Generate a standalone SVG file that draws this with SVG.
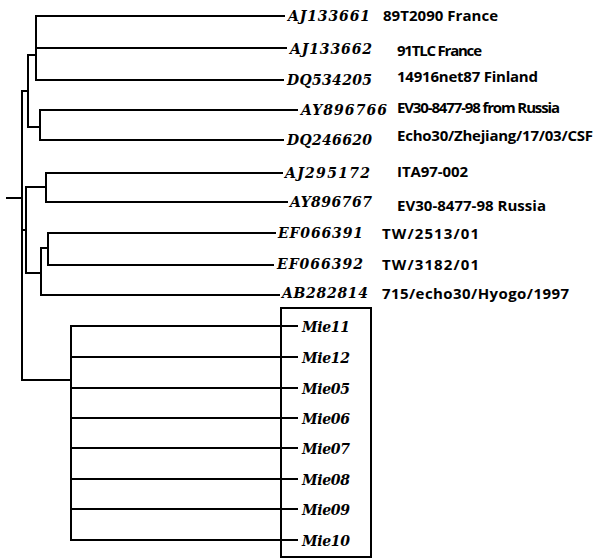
<svg xmlns="http://www.w3.org/2000/svg" width="598" height="560" viewBox="0 0 598 560">
<style>
.br{fill:none;stroke:#000;stroke-width:2;stroke-linecap:square}
.lf{fill:none;stroke:#000;stroke-width:1.8}
.acc{font-family:"DejaVu Serif","Liberation Serif",serif;font-style:italic;font-weight:700;font-size:14px;fill:#000}
.mie{font-family:"DejaVu Serif","Liberation Serif",serif;font-style:italic;font-weight:700;font-size:14px;fill:#000}
.str{font-family:"Open Sans","Liberation Sans",sans-serif;font-weight:700;font-size:15px;fill:#000}
.box{fill:none;stroke:#000;stroke-width:2}
</style>
<rect width="598" height="560" fill="#fff"/>
<g id="connectors">
<path class="br" d="M7,198 H22 M22,91 V380"/>
<path class="br" d="M28,55 V127 M28,91 H22"/>
<path class="br" d="M36,55 H28 M36,16 V80"/>
<path class="lf" d="M36,16 H285 M36,48 H287 M36,80 H284"/>
<path class="br" d="M40,127 H28 M40,110 V140"/>
<path class="lf" d="M40,110 H298 M40,140 H284"/>
<path class="br" d="M26,187 V273 M26,230 H22"/>
<path class="br" d="M46,187 H26 M46,173 V202"/>
<path class="lf" d="M46,173 H283 M46,202 H288"/>
<path class="br" d="M41,273 H26 M41,248 V295 M48,248 H41 M48,233 V265"/>
<path class="lf" d="M48,233 H276 M48,265 H274 M41,295 H280"/>
<path class="br" d="M71,380 H22 M71,326 V540"/>
<path class="lf" d="M71,326 H298 M71,357 H298 M71,388 H298 M71,418 H298 M71,448 H298 M71,479 H298 M71,509 H298 M71,540 H298"/>
</g>
<g id="n-AJ133661"><text class="acc" x="288" y="20.5" textLength="82" lengthAdjust="spacing">AJ133661</text><text class="str" x="383" y="20.5" textLength="115" lengthAdjust="spacing">89T2090 France</text></g>
<g id="n-AJ133662"><text class="acc" x="290" y="53.5" textLength="82" lengthAdjust="spacing">AJ133662</text><text class="str" x="397" y="55.5" textLength="85" lengthAdjust="spacing">91TLC France</text></g>
<g id="n-DQ534205"><text class="acc" x="287" y="84.5" textLength="85" lengthAdjust="spacing">DQ534205</text><text class="str" x="397" y="82" textLength="141" lengthAdjust="spacing">14916net87 Finland</text></g>
<g id="n-AY896766"><text class="acc" x="301" y="114.5" textLength="86" lengthAdjust="spacing">AY896766</text><text class="str" x="397" y="113" textLength="163" lengthAdjust="spacing">EV30-8477-98 from Russia</text></g>
<g id="n-DQ246620"><text class="acc" x="287" y="144.5" textLength="85" lengthAdjust="spacing">DQ246620</text><text class="str" x="397" y="141" textLength="196" lengthAdjust="spacing">Echo30/Zhejiang/17/03/CSF</text></g>
<g id="n-AJ295172"><text class="acc" x="285" y="177.5" textLength="85" lengthAdjust="spacing">AJ295172</text><text class="str" x="397" y="176.5" textLength="71" lengthAdjust="spacing">ITA97-002</text></g>
<g id="n-AY896767"><text class="acc" x="290" y="206.5" textLength="82" lengthAdjust="spacing">AY896767</text><text class="str" x="397" y="211" textLength="149" lengthAdjust="spacing">EV30-8477-98 Russia</text></g>
<g id="n-EF066391"><text class="acc" x="278" y="237.5" textLength="85" lengthAdjust="spacing">EF066391</text><text class="str" x="382" y="239" textLength="97" lengthAdjust="spacing">TW/2513/01</text></g>
<g id="n-EF066392"><text class="acc" x="277" y="268.5" textLength="86" lengthAdjust="spacing">EF066392</text><text class="str" x="382" y="270" textLength="97" lengthAdjust="spacing">TW/3182/01</text></g>
<g id="n-AB282814"><text class="acc" x="282" y="297.5" textLength="86" lengthAdjust="spacing">AB282814</text><text class="str" x="382" y="299" textLength="187" lengthAdjust="spacing">715/echo30/Hyogo/1997</text></g>
<g id="mie-box"><rect class="box" x="281" y="308" width="90" height="249"/></g>
<g id="n-Mie11"><text class="mie" x="302" y="331.5" textLength="48" lengthAdjust="spacing">Mie11</text></g>
<g id="n-Mie12"><text class="mie" x="302" y="362.5" textLength="48" lengthAdjust="spacing">Mie12</text></g>
<g id="n-Mie05"><text class="mie" x="302" y="393.5" textLength="48" lengthAdjust="spacing">Mie05</text></g>
<g id="n-Mie06"><text class="mie" x="302" y="423.5" textLength="48" lengthAdjust="spacing">Mie06</text></g>
<g id="n-Mie07"><text class="mie" x="302" y="453.5" textLength="48" lengthAdjust="spacing">Mie07</text></g>
<g id="n-Mie08"><text class="mie" x="302" y="484.5" textLength="48" lengthAdjust="spacing">Mie08</text></g>
<g id="n-Mie09"><text class="mie" x="302" y="514.5" textLength="48" lengthAdjust="spacing">Mie09</text></g>
<g id="n-Mie10"><text class="mie" x="302" y="545.5" textLength="48" lengthAdjust="spacing">Mie10</text></g>
</svg>
